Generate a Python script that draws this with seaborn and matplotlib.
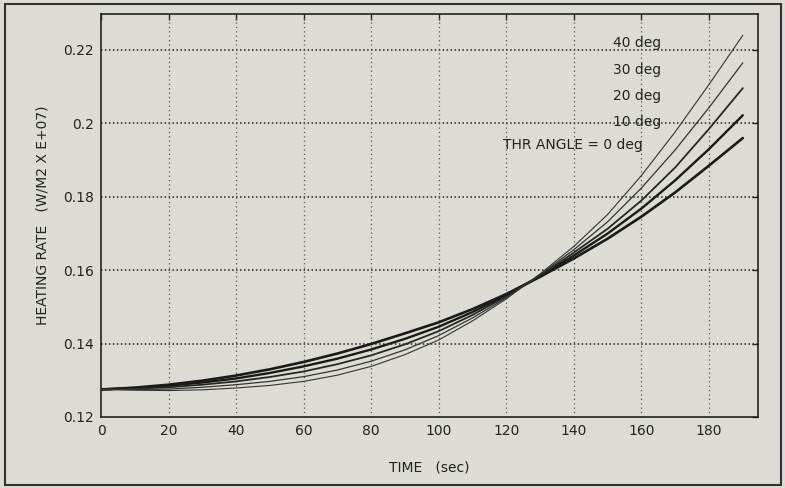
import numpy as np
import pandas as pd
import matplotlib
matplotlib.use("Agg")
import matplotlib.pyplot as plt
import seaborn as sns

time_s = [0, 10, 20, 30, 40, 50, 60, 70, 80, 90, 100, 110, 120, 130, 140, 150, 160, 170, 180, 190]
rate_0deg = [0.1275, 0.1280, 0.1288, 0.1299, 0.1313, 0.1330, 0.1350, 0.1373, 0.1399, 0.1428,
             0.1458, 0.1494, 0.1535, 0.1582, 0.1632, 0.1686, 0.1746, 0.1812, 0.1885, 0.1960]
rate_10deg = [0.1275, 0.1279, 0.1285, 0.1294, 0.1305, 0.1320, 0.1338, 0.1359, 0.1384, 0.1413,
              0.1446, 0.1486, 0.1532, 0.1584, 0.1640, 0.1700, 0.1768, 0.1845, 0.1930, 0.2022]
rate_20deg = [0.1275, 0.1277, 0.1281, 0.1288, 0.1297, 0.1309, 0.1324, 0.1344, 0.1368, 0.1398,
              0.1434, 0.1478, 0.1529, 0.1586, 0.1648, 0.1713, 0.1790, 0.1880, 0.1985, 0.2096]
rate_30deg = [0.1275, 0.1275, 0.1276, 0.1281, 0.1288, 0.1297, 0.1310, 0.1328, 0.1352, 0.1383,
              0.1422, 0.1470, 0.1525, 0.1588, 0.1656, 0.1732, 0.1824, 0.1928, 0.2043, 0.2165]
rate_40deg = [0.1275, 0.1273, 0.1272, 0.1274, 0.1279, 0.1286, 0.1297, 0.1314, 0.1338, 0.1370,
              0.1410, 0.1462, 0.1522, 0.1590, 0.1665, 0.1752, 0.1858, 0.1977, 0.2106, 0.2240]

angle_labels = ["10 deg", "20 deg", "30 deg", "40 deg"]
label_y = [0.2004, 0.2075, 0.2146, 0.2218]
base_label = "THR ANGLE = 0 deg"
base_label_y = 0.1941

x_ticks = [0, 20, 40, 60, 80, 100, 120, 140, 160, 180]
y_ticks = [0.12, 0.14, 0.16, 0.18, 0.2, 0.22]
y_tick_labels = ["0.12", "0.14", "0.16", "0.18", "0.2", "0.22"]

series = {"0": rate_0deg, "10": rate_10deg, "20": rate_20deg, "30": rate_30deg, "40": rate_40deg}
df = pd.concat([pd.DataFrame({"time": time_s, "rate": v, "angle": k}) for k, v in series.items()],
               ignore_index=True)

sns.set_theme(style="white")
plt.rcParams["font.family"] = ["DejaVu Sans"]

bg = "#dcdcd5"
ink = "#222222"
fig = plt.figure(figsize=(7.85, 4.88), dpi=100, facecolor=bg)
ax = fig.add_axes([0.1287, 0.1455, 0.8369, 0.8258])
ax.set_facecolor(bg)

widths = {"0": 1.9, "10": 1.7, "20": 1.3, "30": 0.9, "40": 0.8}
colors = {"0": "#1a1a1a", "10": "#1a1a1a", "20": "#262626", "30": "#333333", "40": "#333333"}
for k in series:
    sns.lineplot(data=df[df["angle"] == k], x="time", y="rate", ax=ax,
                 color=colors[k], lw=widths[k], legend=False, zorder=3)

ax.set_xlim(0, 194.5)
ax.set_ylim(0.12, 0.2298)
ax.set_xticks(x_ticks)
ax.set_xticklabels([str(t) for t in x_ticks])
ax.set_yticks(y_ticks)
ax.set_yticklabels(y_tick_labels)

ax.grid(False)
for yv in y_ticks[1:]:
    ax.axhline(yv, color=ink, lw=1.1, ls=(0, (1, 1.6)), zorder=1)
for xv in x_ticks[1:]:
    ax.axvline(xv, color="#555555", lw=0.9, ls=(0, (1, 2.5)), zorder=1)

for s in ax.spines.values():
    s.set_color(ink)
    s.set_linewidth(1.2)

ax.tick_params(axis="both", direction="in", length=4, width=1, colors=ink,
               labelsize=10, labelcolor=ink, top=True, right=True, pad=5)

for lab, yv in zip(angle_labels, label_y):
    ax.text(151.5, yv, lab, ha="left", va="center", fontsize=10, color=ink, zorder=4)
ax.text(160.5, base_label_y, base_label, ha="right", va="center", fontsize=10, color=ink, zorder=4)

ax.set_xlabel("TIME   (sec)", fontsize=10, color=ink, labelpad=16)
ax.set_ylabel("HEATING RATE   (W/M2 X E+07)", fontsize=10, color=ink, labelpad=10)

# outer frame
fig.add_artist(plt.Rectangle((0.006, 0.006), 0.989, 0.985, transform=fig.transFigure,
                             fill=False, ec="#333333", lw=1.5))

fig.savefig("out.png", dpi=100, facecolor=bg)
